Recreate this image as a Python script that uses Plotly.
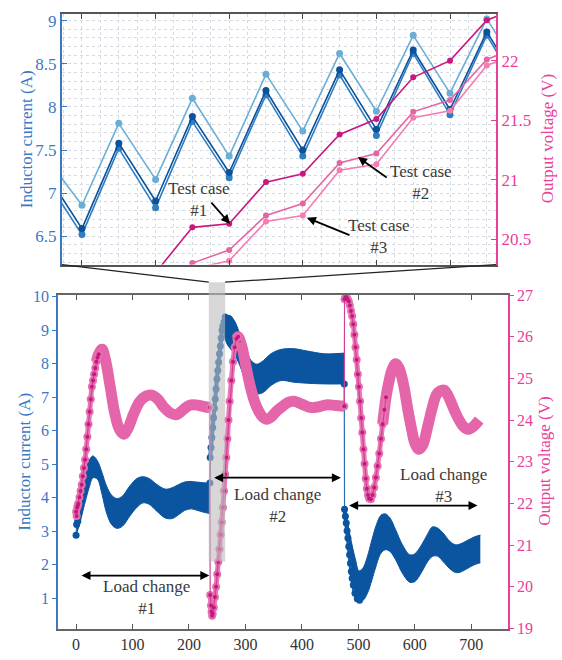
import plotly.graph_objects as go

W, H = 562, 660
FONT = "Liberation Serif"
BLUE_AX = "#3b78c4"
PINK_AX = "#e8409a"
TXT = "#3a3a3a"

# ---------------- top (zoomed-in) panel data ----------------
top_x = list(range(1, 15))
cur_light = [7.43, 6.86, 7.81, 7.16, 8.10, 7.43, 8.38, 7.72, 8.62, 7.95, 8.83, 8.16, 9.02, 8.35]
cur_mid = [7.18, 6.52, 7.52, 6.83, 7.83, 7.18, 8.14, 7.43, 8.37, 7.67, 8.62, 7.91, 8.83, 8.12]
cur_dark = [7.25, 6.59, 7.58, 6.91, 7.89, 7.24, 8.19, 7.50, 8.43, 7.74, 8.66, 7.97, 8.87, 8.18]
top_xv = list(range(4, 15))
volt_case1 = [20.22, 20.60, 20.63, 20.98, 21.05, 21.38, 21.51, 21.86, 22.00, 22.34, 22.46]
volt_case2 = [19.98, 20.30, 20.41, 20.70, 20.80, 21.14, 21.22, 21.57, 21.67, 22.01, 22.13]
volt_case3 = [19.90, 20.25, 20.32, 20.65, 20.70, 21.08, 21.13, 21.52, 21.58, 21.96, 22.08]

# ---------------- bottom panel data ----------------
# inductor current ripple envelopes (upper / lower) per steady segment
cA_x = [0, 6, 12, 18, 24, 30, 38, 46, 54, 63, 72, 82, 95, 108, 119, 130, 143, 158, 170, 182, 192, 202, 214, 226, 237]
cA_up = [3.55, 4.0, 4.5, 4.9, 5.15, 5.25, 5.1, 4.75, 4.35, 4.08, 3.98, 4.05, 4.35, 4.58, 4.63, 4.57, 4.4, 4.26, 4.3, 4.4, 4.47, 4.49, 4.47, 4.45, 4.44]
cA_lo = [2.9, 3.2, 3.6, 4.0, 4.35, 4.6, 4.55, 4.1, 3.55, 3.2, 3.09, 3.15, 3.45, 3.72, 3.85, 3.8, 3.6, 3.4, 3.38, 3.5, 3.62, 3.67, 3.63, 3.57, 3.53]
cB_x = [262, 267, 272, 280, 290, 300, 310, 320, 332, 345, 363, 386, 410, 440, 475]
cB_up = [9.25, 9.4, 9.45, 9.3, 8.9, 8.45, 8.1, 7.99, 8.1, 8.3, 8.43, 8.45, 8.38, 8.3, 8.32]
cB_lo = [8.9, 8.6, 8.48, 8.3, 7.95, 7.5, 7.2, 7.1, 7.15, 7.35, 7.5, 7.45, 7.42, 7.4, 7.4]
cC_x = [476, 480, 485, 490, 495, 501, 508, 516, 524, 532, 540, 548, 556, 566, 578, 591, 600, 612, 622, 631, 640, 650, 662, 672, 680, 692, 705, 716]
cC_up = [3.6, 3.3, 2.9, 2.5, 2.15, 1.82, 1.9, 2.25, 2.75, 3.2, 3.48, 3.52, 3.4, 3.05, 2.6, 2.3, 2.33, 2.6, 2.9, 3.13, 3.1, 2.95, 2.7, 2.6, 2.62, 2.72, 2.83, 2.89]
cC_lo = [3.5, 2.9, 2.2, 1.55, 1.15, 0.97, 0.94, 1.15, 1.55, 2.0, 2.35, 2.45, 2.4, 2.15, 1.75, 1.48, 1.5, 1.78, 2.08, 2.25, 2.26, 2.1, 1.88, 1.77, 1.78, 1.88, 2.0, 2.06]
# inductor current transients (sampled points)
cT1_x = [0, 1, 2, 3, 4, 6, 8]
cT1_y = [2.88, 3.2, 3.5, 3.3, 3.6, 3.9, 4.2]
cT2_x = [237, 237.5, 239, 240.5, 242, 243.5, 245, 246.5, 248, 249.5, 251, 252.5, 254, 255.5, 257, 258.5, 260, 262, 264]
cT2_y = [4.44, 5.2, 5.5, 5.8, 6.1, 6.39, 6.67, 6.95, 7.25, 7.55, 7.8, 8.05, 8.3, 8.53, 8.77, 9.0, 9.12, 9.25, 9.4]
cT3_x = [475, 475.5, 477, 478.5, 480, 481.5, 483, 484.5, 486, 487.5, 489, 491, 494, 498, 502]
cT3_y = [7.4, 3.66, 3.45, 3.25, 3.02, 2.8, 2.55, 2.3, 2.05, 1.8, 1.6, 1.4, 1.15, 0.99, 0.94]

# output voltage, steady segments (ripple band centre line)
vA_x = [36, 40, 46, 52, 60, 68, 76, 84, 92, 102, 113, 124, 134, 145, 156, 167, 178, 190, 200, 208, 218, 228, 237]
vA_y = [25.4, 25.58, 25.7, 25.45, 24.84, 24.2, 23.8, 23.66, 23.8, 24.15, 24.45, 24.58, 24.6, 24.5, 24.3, 24.17, 24.13, 24.25, 24.35, 24.37, 24.35, 24.32, 24.3]
vB_x = [284, 287, 294, 300, 308, 316, 324, 330, 338, 346, 354, 363, 375, 386, 400, 416, 430, 445, 460, 475]
vB_y = [25.95, 26.0, 25.75, 25.35, 24.84, 24.45, 24.2, 24.08, 24.02, 24.08, 24.2, 24.3, 24.42, 24.45, 24.38, 24.3, 24.32, 24.37, 24.35, 24.33]
vC_x = [543, 546, 549, 553, 560, 566, 572, 580, 587, 594, 600, 607, 614, 622, 630, 638, 645, 652, 660, 668, 676, 684, 690, 696, 704, 714]
vC_y = [23.9, 24.25, 24.55, 24.85, 25.22, 25.35, 25.25, 24.85, 24.3, 23.8, 23.45, 23.3, 23.4, 23.8, 24.25, 24.6, 24.7, 24.72, 24.55, 24.3, 24.06, 23.88, 23.8, 23.78, 23.85, 24.0]
# output voltage transients (sampled points)
vT1_x = [0, 1, 2, 3, 4, 6, 8, 10, 12, 14, 16, 18, 20, 22, 24, 26, 28, 30, 32, 34, 36, 38, 40]
vT1_y = [21.8, 21.7, 21.9, 21.95, 22.0, 22.15, 22.3, 22.45, 22.65, 22.85, 23.05, 23.3, 23.6, 23.9, 24.2, 24.5, 24.8, 24.95, 25.1, 25.25, 25.4, 25.5, 25.58]
vT2_x = [237, 237.5, 239, 240, 241, 242, 244, 246, 248, 250, 252, 254, 256, 258, 260, 262, 264, 266, 268, 270, 272, 275, 278, 281, 284, 287]
vT2_y = [24.3, 19.8, 19.55, 19.4, 19.3, 19.35, 19.5, 19.75, 20.0, 20.3, 20.6, 20.9, 21.25, 21.55, 21.9, 22.3, 22.7, 23.1, 23.55, 24.0, 24.45, 24.95, 25.4, 25.75, 25.95, 26.0]
vT3_x = [475, 475.5, 477, 479, 481, 483, 485, 487, 489, 491, 493, 495, 497, 499, 501, 503, 505, 507, 509, 511, 513, 515, 517, 519, 522, 525, 528, 531, 534, 537, 540, 543, 546, 549]
vT3_y = [24.33, 26.9, 26.95, 26.95, 26.9, 26.85, 26.75, 26.62, 26.5, 26.3, 26.05, 25.75, 25.45, 25.1, 24.8, 24.45, 24.05, 23.7, 23.3, 22.95, 22.6, 22.35, 22.2, 22.12, 22.1, 22.2, 22.38, 22.62, 22.9, 23.2, 23.55, 23.9, 24.25, 24.55]

zoom_window = [235, 264]   # x-range shown in the top panel
zoom_ybottom = 2.1          # bottom of the highlighted band (A)

# ---------------- layout geometry ----------------
top_dom_x = [62 / W, 496 / W]
top_dom_y = [1 - 263 / H, 1 - 6 / H]
bot_dom_x = [58 / W, 508 / W]
bot_dom_y = [1 - 636 / H, 1 - 294 / H]
top_xr = [1.457, 13.25]
top_yr = [6.172, 9.079]
top_y2r = [20.287, 22.393]
bot_xr = [-32, 765]
bot_yr = [0.097, 10.058]
bot_y2r = [18.995, 27.005]


def to_paper(v, rng, dom):
    return dom[0] + (v - rng[0]) / (rng[1] - rng[0]) * (dom[1] - dom[0])


fig = go.Figure()

# ---- top traces ----
for ys, col in [(cur_light, "#6aaed6"), (cur_mid, "#2f7fc0"), (cur_dark, "#0b519c")]:
    fig.add_trace(go.Scatter(x=top_x, y=ys, mode="lines+markers", xaxis="x", yaxis="y",
                             line=dict(color=col, width=1.6), marker=dict(color=col, size=7),
                             showlegend=False))
for ys, col in [(volt_case3, "#f47cb2"), (volt_case2, "#e465a6"), (volt_case1, "#c8177e")]:
    fig.add_trace(go.Scatter(x=top_xv, y=ys, mode="lines+markers", xaxis="x", yaxis="y2",
                             line=dict(color=col, width=1.6), marker=dict(color=col, size=6),
                             showlegend=False))

# ---- bottom: inductor current ----
BBAND = "#0a54a0"
for bx, bu, bl in [(cA_x, cA_up, cA_lo), (cB_x, cB_up, cB_lo), (cC_x, cC_up, cC_lo)]:
    fig.add_trace(go.Scatter(x=bx, y=bu, mode="lines", xaxis="x2", yaxis="y3",
                             line=dict(color=BBAND, width=1, shape="spline"), showlegend=False))
    fig.add_trace(go.Scatter(x=bx, y=bl, mode="lines", xaxis="x2", yaxis="y3", fill="tonexty",
                             fillcolor=BBAND, line=dict(color=BBAND, width=1, shape="spline"),
                             showlegend=False))
for tx, ty in [(cT1_x, cT1_y), (cT2_x, cT2_y), (cT3_x, cT3_y)]:
    fig.add_trace(go.Scatter(x=tx[1:], y=ty[1:], mode="lines", xaxis="x2", yaxis="y3",
                             line=dict(color=BBAND, width=4, shape="spline"), showlegend=False))
    fig.add_trace(go.Scatter(x=tx, y=ty, mode="lines+markers", xaxis="x2", yaxis="y3",
                             line=dict(color="#2a6db5", width=1.2),
                             marker=dict(color=BBAND, size=7), showlegend=False))

# ---- bottom: output voltage ----
PBAND = "#e465aa"
for vx, vy in [(vA_x, vA_y), (vB_x, vB_y), (vC_x, vC_y)]:
    fig.add_trace(go.Scatter(x=vx, y=vy, mode="lines", xaxis="x2", yaxis="y4",
                             line=dict(color=PBAND, width=11, shape="spline"), showlegend=False))
for tx, ty in [(vT1_x, vT1_y), (vT2_x, vT2_y), (vT3_x, vT3_y)]:
    fig.add_trace(go.Scatter(x=tx[1:], y=ty[1:], mode="lines", xaxis="x2", yaxis="y4",
                             line=dict(color="#e877b2", width=5, shape="spline"), showlegend=False))
    fig.add_trace(go.Scatter(x=tx, y=ty, mode="markers", xaxis="x2", yaxis="y4",
                             marker=dict(color="#e86fae", size=8), showlegend=False))
    fig.add_trace(go.Scatter(x=tx, y=ty, mode="lines+markers", xaxis="x2", yaxis="y4",
                             line=dict(color="#d0409a", width=1.2),
                             marker=dict(color="#c2187f", size=4), showlegend=False))

# ---- shapes: highlight band and connectors ----
zx0 = to_paper(zoom_window[0], bot_xr, bot_dom_x)
zx1 = to_paper(zoom_window[1], bot_xr, bot_dom_x)
zy0 = to_paper(zoom_ybottom, bot_yr, bot_dom_y)
zy1 = 1 - 281 / H
shapes = [
    dict(type="rect", xref="paper", yref="paper", x0=zx0, x1=zx1, y0=zy0, y1=zy1,
         fillcolor="#bdbdbd", opacity=0.6, line=dict(width=0), layer="above"),
    dict(type="line", xref="paper", yref="paper", x0=top_dom_x[0], y0=top_dom_y[0], x1=zx0, y1=zy1,
         line=dict(color="#222", width=1.2)),
    dict(type="line", xref="paper", yref="paper", x0=top_dom_x[1], y0=top_dom_y[0], x1=zx1, y1=zy1,
         line=dict(color="#222", width=1.2)),
]

# ---- annotations ----
ann = []
tfont = dict(family=FONT, size=17, color=TXT)
# axis titles
for xp, yp, txt, col in [(26 / W, sum(top_dom_y) / 2, "Inductor current (A)", BLUE_AX),
                         (547 / W, sum(top_dom_y) / 2, "Output voltage (V)", PINK_AX),
                         (25 / W, sum(bot_dom_y) / 2, "Inductor current (A)", BLUE_AX),
                         (545 / W, sum(bot_dom_y) / 2, "Output voltage (V)", PINK_AX)]:
    ann.append(dict(xref="paper", yref="paper", x=xp, y=yp, text=txt, showarrow=False, textangle=-90,
                    xanchor="center", yanchor="middle", font=dict(family=FONT, size=17, color=col)))
# top panel test-case labels
for x, y, txt in [(5.18, 6.93, "Test case<br>#1"), (11.21, 7.12, "Test case<br>#2"), (10.07, 6.50, "Test case<br>#3")]:
    ann.append(dict(xref="x", yref="y", x=x, y=y, text=txt, showarrow=False, font=tfont,
                    xanchor="center", yanchor="middle"))
for hx, hy, tx, ty in [(6.02, 20.63, 5.48, 20.82), (9.5, 21.19, 10.32, 21.01), (8.11, 20.68, 9.31, 20.53)]:
    ann.append(dict(xref="x", yref="y2", axref="x", ayref="y2", x=hx, y=hy, ax=tx, ay=ty, text="",
                    showarrow=True, arrowhead=2, arrowsize=1, arrowwidth=1.8, arrowcolor="#000",
                    standoff=0))
# bottom panel load-change labels
for x, y, txt in [(125, 1.03, "Load change<br>#1"), (357, 3.77, "Load change<br>#2"), (651, 4.38, "Load change<br>#3")]:
    ann.append(dict(xref="x2", yref="y3", x=x, y=y, text=txt, showarrow=False, font=tfont,
                    xanchor="center", yanchor="middle"))
for x0, x1, y in [(7, 236, 1.68), (242, 469, 4.6), (481, 711, 3.77)]:
    ann.append(dict(xref="x2", yref="y3", axref="x2", ayref="y3", x=x1, y=y, ax=x0, ay=y, text="",
                    showarrow=True, arrowhead=2, startarrowhead=2, arrowside="end+start",
                    arrowsize=1, startarrowsize=1, arrowwidth=1.8, arrowcolor="#000",
                    standoff=0, startstandoff=0))

grid = dict(showgrid=True, gridcolor="#d6dbe3", griddash="dot", gridwidth=1)

fig.update_layout(
    width=W, height=H, margin=dict(l=0, r=0, t=0, b=0),
    paper_bgcolor="white", plot_bgcolor="white", showlegend=False,
    font=dict(family=FONT),
    xaxis=dict(domain=top_dom_x, anchor="y", range=top_xr, tick0=0, dtick=2, showticklabels=False,
               ticks="inside", ticklen=5, tickcolor="#444", showline=True, linecolor="#555",
               linewidth=1.5, mirror="ticks", zeroline=False, **grid,
               minor=dict(dtick=0.5, **grid)),
    yaxis=dict(domain=top_dom_y, anchor="x", range=top_yr, tick0=0, dtick=0.5, ticks="inside",
               ticklen=5, tickcolor=BLUE_AX, showline=True, linecolor=BLUE_AX, linewidth=2,
               tickfont=dict(family=FONT, size=17, color=BLUE_AX), zeroline=False, **grid,
               minor=dict(dtick=0.1, **grid)),
    yaxis2=dict(overlaying="y", side="right", anchor="x", range=top_y2r, tick0=0, dtick=0.5,
                ticks="inside", ticklen=5, tickcolor=PINK_AX, showline=True, linecolor=PINK_AX,
                linewidth=2, tickfont=dict(family=FONT, size=17, color=PINK_AX), showgrid=False,
                zeroline=False),
    xaxis2=dict(domain=bot_dom_x, anchor="y3", range=bot_xr, tick0=0, dtick=100, ticks="inside",
                ticklen=5, tickcolor="#555", showline=True, linecolor="#666", linewidth=1.5,
                mirror="ticks", showgrid=False, zeroline=False,
                tickfont=dict(family=FONT, size=16, color="#333")),
    yaxis3=dict(domain=bot_dom_y, anchor="x2", range=bot_yr, tick0=0, dtick=1, ticks="outside",
                ticklen=4, tickcolor=BLUE_AX, showline=True, linecolor=BLUE_AX, linewidth=1.5,
                tickfont=dict(family=FONT, size=16, color=BLUE_AX), showgrid=False, zeroline=False),
    yaxis4=dict(overlaying="y3", side="right", anchor="x2", range=bot_y2r, tick0=0, dtick=1,
                ticks="outside", ticklen=4, tickcolor=PINK_AX, showline=True, linecolor=PINK_AX,
                linewidth=1.5, tickfont=dict(family=FONT, size=16, color=PINK_AX),
                showgrid=False, zeroline=False),
    shapes=shapes, annotations=ann,
)

fig.write_html("out.html", config={"displayModeBar": False},
               post_script="document.body.style.margin='0';")
